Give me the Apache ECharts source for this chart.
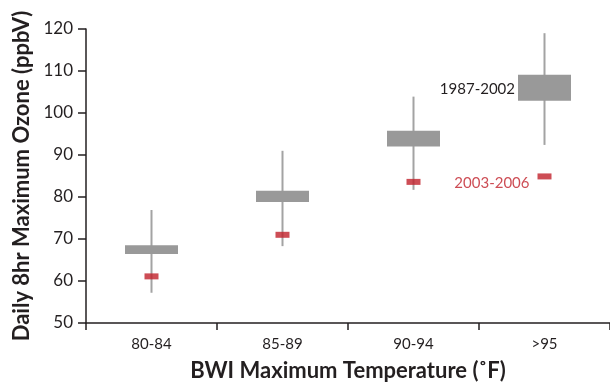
<!DOCTYPE html>
<html>
<head>
<meta charset="utf-8">
<script src="https://cdn.jsdelivr.net/npm/echarts@6/dist/echarts.min.js"></script>
<style>
  html, body { margin: 0; padding: 0; background: #fff; }
  #chart { width: 610px; height: 385px; }
</style>
</head>
<body>
<div id="chart"></div>
<script>
// temperature bins
var categories = ['80-84', '85-89', '90-94', '>95'];
// 1987-2002 whisker/box values (ppbV)
var whiskerLow = [57.2, 68.3, 81.7, 92.4];
var boxLow = [66.4, 78.8, 92.0, 102.9];
var boxHigh = [68.5, 81.5, 95.8, 109.1];
var whiskerHigh = [76.9, 91.0, 103.9, 119.0];
// 2003-2006 values
var recent = [61.1, 71.0, 83.6, 84.9];

var yTicks = { min: 50, max: 120, step: 10 };

var boxData = categories.map(function (c, i) {
  return [i, whiskerLow[i], boxLow[i], boxHigh[i], whiskerHigh[i]];
});

var font = 'Lato, "Open Sans", sans-serif';

var chart = echarts.init(document.getElementById('chart'));
chart.setOption({
  animation: false,
  grid: { left: 86, right: 0, top: 29, bottom: 62, outerBoundsMode: 'none', containLabel: false },
  xAxis: {
    type: 'category',
    data: categories,
    boundaryGap: true,
    name: 'BWI Maximum Temperature (˚F)',
    nameLocation: 'middle',
    nameGap: 37,
    nameTextStyle: { fontFamily: font, fontWeight: 'bold', fontSize: 22, color: '#231f20' },
    axisLine: { lineStyle: { color: '#231f20', width: 1.5 } },
    axisTick: { show: true, interval: 0, length: 7, lineStyle: { color: '#231f20', width: 1.5 } },
    axisLabel: { fontFamily: font, fontSize: 15, color: '#231f20', margin: 14 },
    splitLine: { show: false }
  },
  yAxis: {
    type: 'value',
    min: yTicks.min,
    max: yTicks.max,
    interval: yTicks.step,
    name: 'Daily 8hr Maximum Ozone (ppbV)',
    nameLocation: 'middle',
    nameRotate: 90,
    nameGap: 45,
    nameTextStyle: { fontFamily: font, fontWeight: 'bold', fontSize: 22, color: '#231f20' },
    axisLine: { show: true, lineStyle: { color: '#231f20', width: 1.5 } },
    axisTick: { show: true, length: 8, lineStyle: { color: '#231f20', width: 1.5 } },
    axisLabel: { fontFamily: font, fontSize: 17, color: '#231f20', margin: 13 },
    splitLine: { show: false }
  },
  series: [
    {
      name: '1987-2002',
      type: 'custom',
      data: boxData,
      encode: { x: 0, y: [1, 2, 3, 4] },
      renderItem: function (params, api) {
        var i = api.value(0);
        var lo = api.coord([i, api.value(1)]);
        var q1 = api.coord([i, api.value(2)]);
        var q3 = api.coord([i, api.value(3)]);
        var hi = api.coord([i, api.value(4)]);
        var w = 53;
        var children = [
          {
            type: 'line',
            shape: { x1: lo[0], y1: lo[1], x2: hi[0], y2: hi[1] },
            style: { stroke: '#a3a3a3', lineWidth: 2 }
          },
          {
            type: 'rect',
            shape: { x: q3[0] - w / 2, y: q3[1], width: w, height: q1[1] - q3[1] },
            style: { fill: '#999999' }
          }
        ];
        if (params.dataIndex === categories.length - 1) {
          children.push({
            type: 'text',
            style: {
              text: '1987-2002',
              x: q3[0] - w / 2 - 3,
              y: (q1[1] + q3[1]) / 2 + 1,
              align: 'right',
              verticalAlign: 'middle',
              fontFamily: font,
              fontSize: 15,
              fill: '#231f20'
            }
          });
        }
        return { type: 'group', children: children };
      },
      z: 2
    },
    {
      name: '2003-2006',
      type: 'scatter',
      data: recent.map(function (v, i) {
        var item = { value: [i, v] };
        if (i === recent.length - 1) {
          item.label = {
            show: true,
            position: 'left',
            distance: 8,
            offset: [0, 7],
            formatter: '2003-2006',
            fontFamily: font,
            fontSize: 15,
            color: '#c0202a'
          };
        }
        return item;
      }),
      symbol: 'rect',
      symbolSize: [14, 6],
      itemStyle: { color: '#c0202a' },
      z: 3
    }
  ]
});
</script>
</body>
</html>
